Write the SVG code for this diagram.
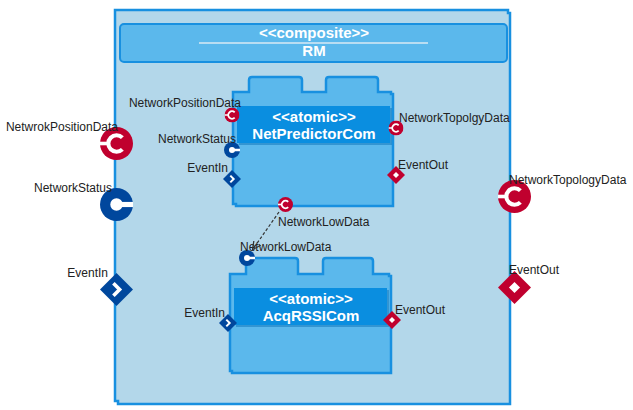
<svg xmlns="http://www.w3.org/2000/svg" width="633" height="410" viewBox="0 0 633 410">
<style>
.lbl{font-family:"Liberation Sans",Arial,sans-serif;font-size:12px;fill:#222}
.hd{font-family:"Liberation Sans",Arial,sans-serif;font-size:15px;font-weight:bold;fill:#fff;text-anchor:middle}
.frame{fill:#b3d7ea;stroke:#1890e0;stroke-width:2.5}
.comp{fill:#5bb8ec;stroke:#1890e0;stroke-width:2.5}
</style>
<defs>
<symbol id="req" viewBox="-16 -16 32 32">
<circle r="16" fill="#c0002e"/>
<path d="M5.7,-5.7 A8,8 0 1 0 5.7,5.7" fill="none" stroke="#fff" stroke-width="4"/>
<line x1="-16" y1="0" x2="-8" y2="0" stroke="#fff" stroke-width="3.5"/>
</symbol>
<symbol id="prov" viewBox="-16 -16 32 32">
<circle r="16" fill="#00479d"/>
<circle r="6" fill="#fff"/>
<rect x="0" y="-2.5" width="16" height="5" fill="#fff"/>
</symbol>
<symbol id="inp" viewBox="-16 -16 32 32">
<rect x="-11.3" y="-11.3" width="22.6" height="22.6" fill="#00479d" transform="rotate(45)"/>
<polyline points="-3,-6 3,0 -3,6" fill="none" stroke="#fff" stroke-width="3.5"/>
</symbol>
<symbol id="outp" viewBox="-16 -16 32 32">
<rect x="-11.3" y="-11.3" width="22.6" height="22.6" fill="#c0002e" transform="rotate(45)"/>
<rect x="-3.8" y="-3.8" width="7.6" height="7.6" fill="#fff" transform="rotate(45)"/>
</symbol>
<marker id="arr" viewBox="0 0 10 10" refX="9" refY="5" markerWidth="7" markerHeight="7" orient="auto-start-reverse">
<path d="M0,0 L10,5 L0,10" fill="none" stroke="#333" stroke-width="1.5"/>
</marker>
</defs>

<g id="RM">
<path d="M115,10 H508 V13 H510 V404 H118 V401 H115 Z" class="frame"/>
<rect x="120" y="24" width="387" height="38" rx="4" fill="#5bb8ec" stroke="#1890e0" stroke-width="2"/>
<text x="314" y="38" class="hd">&lt;&lt;composite&gt;&gt;</text>
<line x1="199" y1="43" x2="428" y2="43" stroke="#d8eaf5" stroke-width="1.5"/>
<text x="314" y="56" class="hd">RM</text>
</g>

<g id="NetPredictorCom">
<path d="M233,92 H249 V80 Q249,77 252,77 H299 Q302,77 302,80 V92 H326 V80 Q326,77 329,77 H375 Q378,77 378,80 V92 H391 V94 H393 V206 H236 V204 H233 Z" class="comp"/>
<rect x="239" y="108" width="153" height="37" fill="#0b72b8" opacity="0.5"/>
<rect x="237" y="106" width="153" height="37" fill="#0a8ee0"/>
<text x="314" y="122" class="hd">&lt;&lt;atomic&gt;&gt;</text>
<text x="314" y="139" class="hd">NetPredictorCom</text>
</g>

<g id="AcqRSSICom">
<path d="M230,274 H246 V261 Q246,258 249,258 H295 Q298,258 298,261 V274 H323 V261 Q323,258 326,258 H370 Q373,258 373,261 V274 H389 V276 H391 V373 H232 V371 H230 Z" class="comp"/>
<rect x="236" y="290" width="153" height="37" fill="#0b72b8" opacity="0.5"/>
<rect x="234" y="288" width="153" height="37" fill="#0a8ee0"/>
<text x="311" y="304" class="hd">&lt;&lt;atomic&gt;&gt;</text>
<text x="311" y="321" class="hd">AcqRSSICom</text>
</g>

<g id="ports">
<use href="#req" x="100" y="127" width="33" height="33"/>
<text x="118" y="131" class="lbl" text-anchor="end">NetwrokPositionData</text>
<use href="#prov" x="100" y="188" width="33" height="33"/>
<text x="112" y="192" class="lbl" text-anchor="end">NetworkStatus</text>
<use href="#inp" x="100" y="273" width="33" height="33"/>
<text x="108" y="277" class="lbl" text-anchor="end">EventIn</text>
<use href="#req" x="498" y="180" width="33" height="33"/>
<text x="509" y="184" class="lbl">NetworkTopologyData</text>
<use href="#outp" x="498" y="271" width="33" height="33"/>
<text x="509" y="274" class="lbl">EventOut</text>

<use href="#req" x="224.5" y="107.5" width="15" height="15"/>
<text x="241" y="107" class="lbl" text-anchor="end">NetworkPositionData</text>
<use href="#prov" x="224" y="142" width="16" height="16"/>
<text x="236" y="143" class="lbl" text-anchor="end">NetworkStatus</text>
<use href="#inp" x="223" y="170" width="18" height="18"/>
<text x="228" y="172" class="lbl" text-anchor="end">EventIn</text>
<use href="#req" x="388.5" y="120.5" width="15" height="15"/>
<text x="399" y="122" class="lbl">NetworkTopolgyData</text>
<use href="#outp" x="387" y="166" width="18" height="18"/>
<text x="398" y="169" class="lbl">EventOut</text>
<use href="#req" x="278" y="197" width="15" height="15"/>
<text x="278" y="226" class="lbl">NetworkLowData</text>

<use href="#prov" x="239" y="250" width="16" height="16"/>
<text x="240" y="251" class="lbl">NetworkLowData</text>
<use href="#inp" x="219" y="314" width="18" height="18"/>
<text x="225" y="317" class="lbl" text-anchor="end">EventIn</text>
<use href="#outp" x="383" y="311" width="18" height="18"/>
<text x="395" y="314" class="lbl">EventOut</text>
</g>

<g id="connectors">
<line x1="279" y1="212" x2="253" y2="249" stroke="#333" stroke-width="1.2" stroke-dasharray="3,2" marker-end="url(#arr)"/>
</g>
</svg>
